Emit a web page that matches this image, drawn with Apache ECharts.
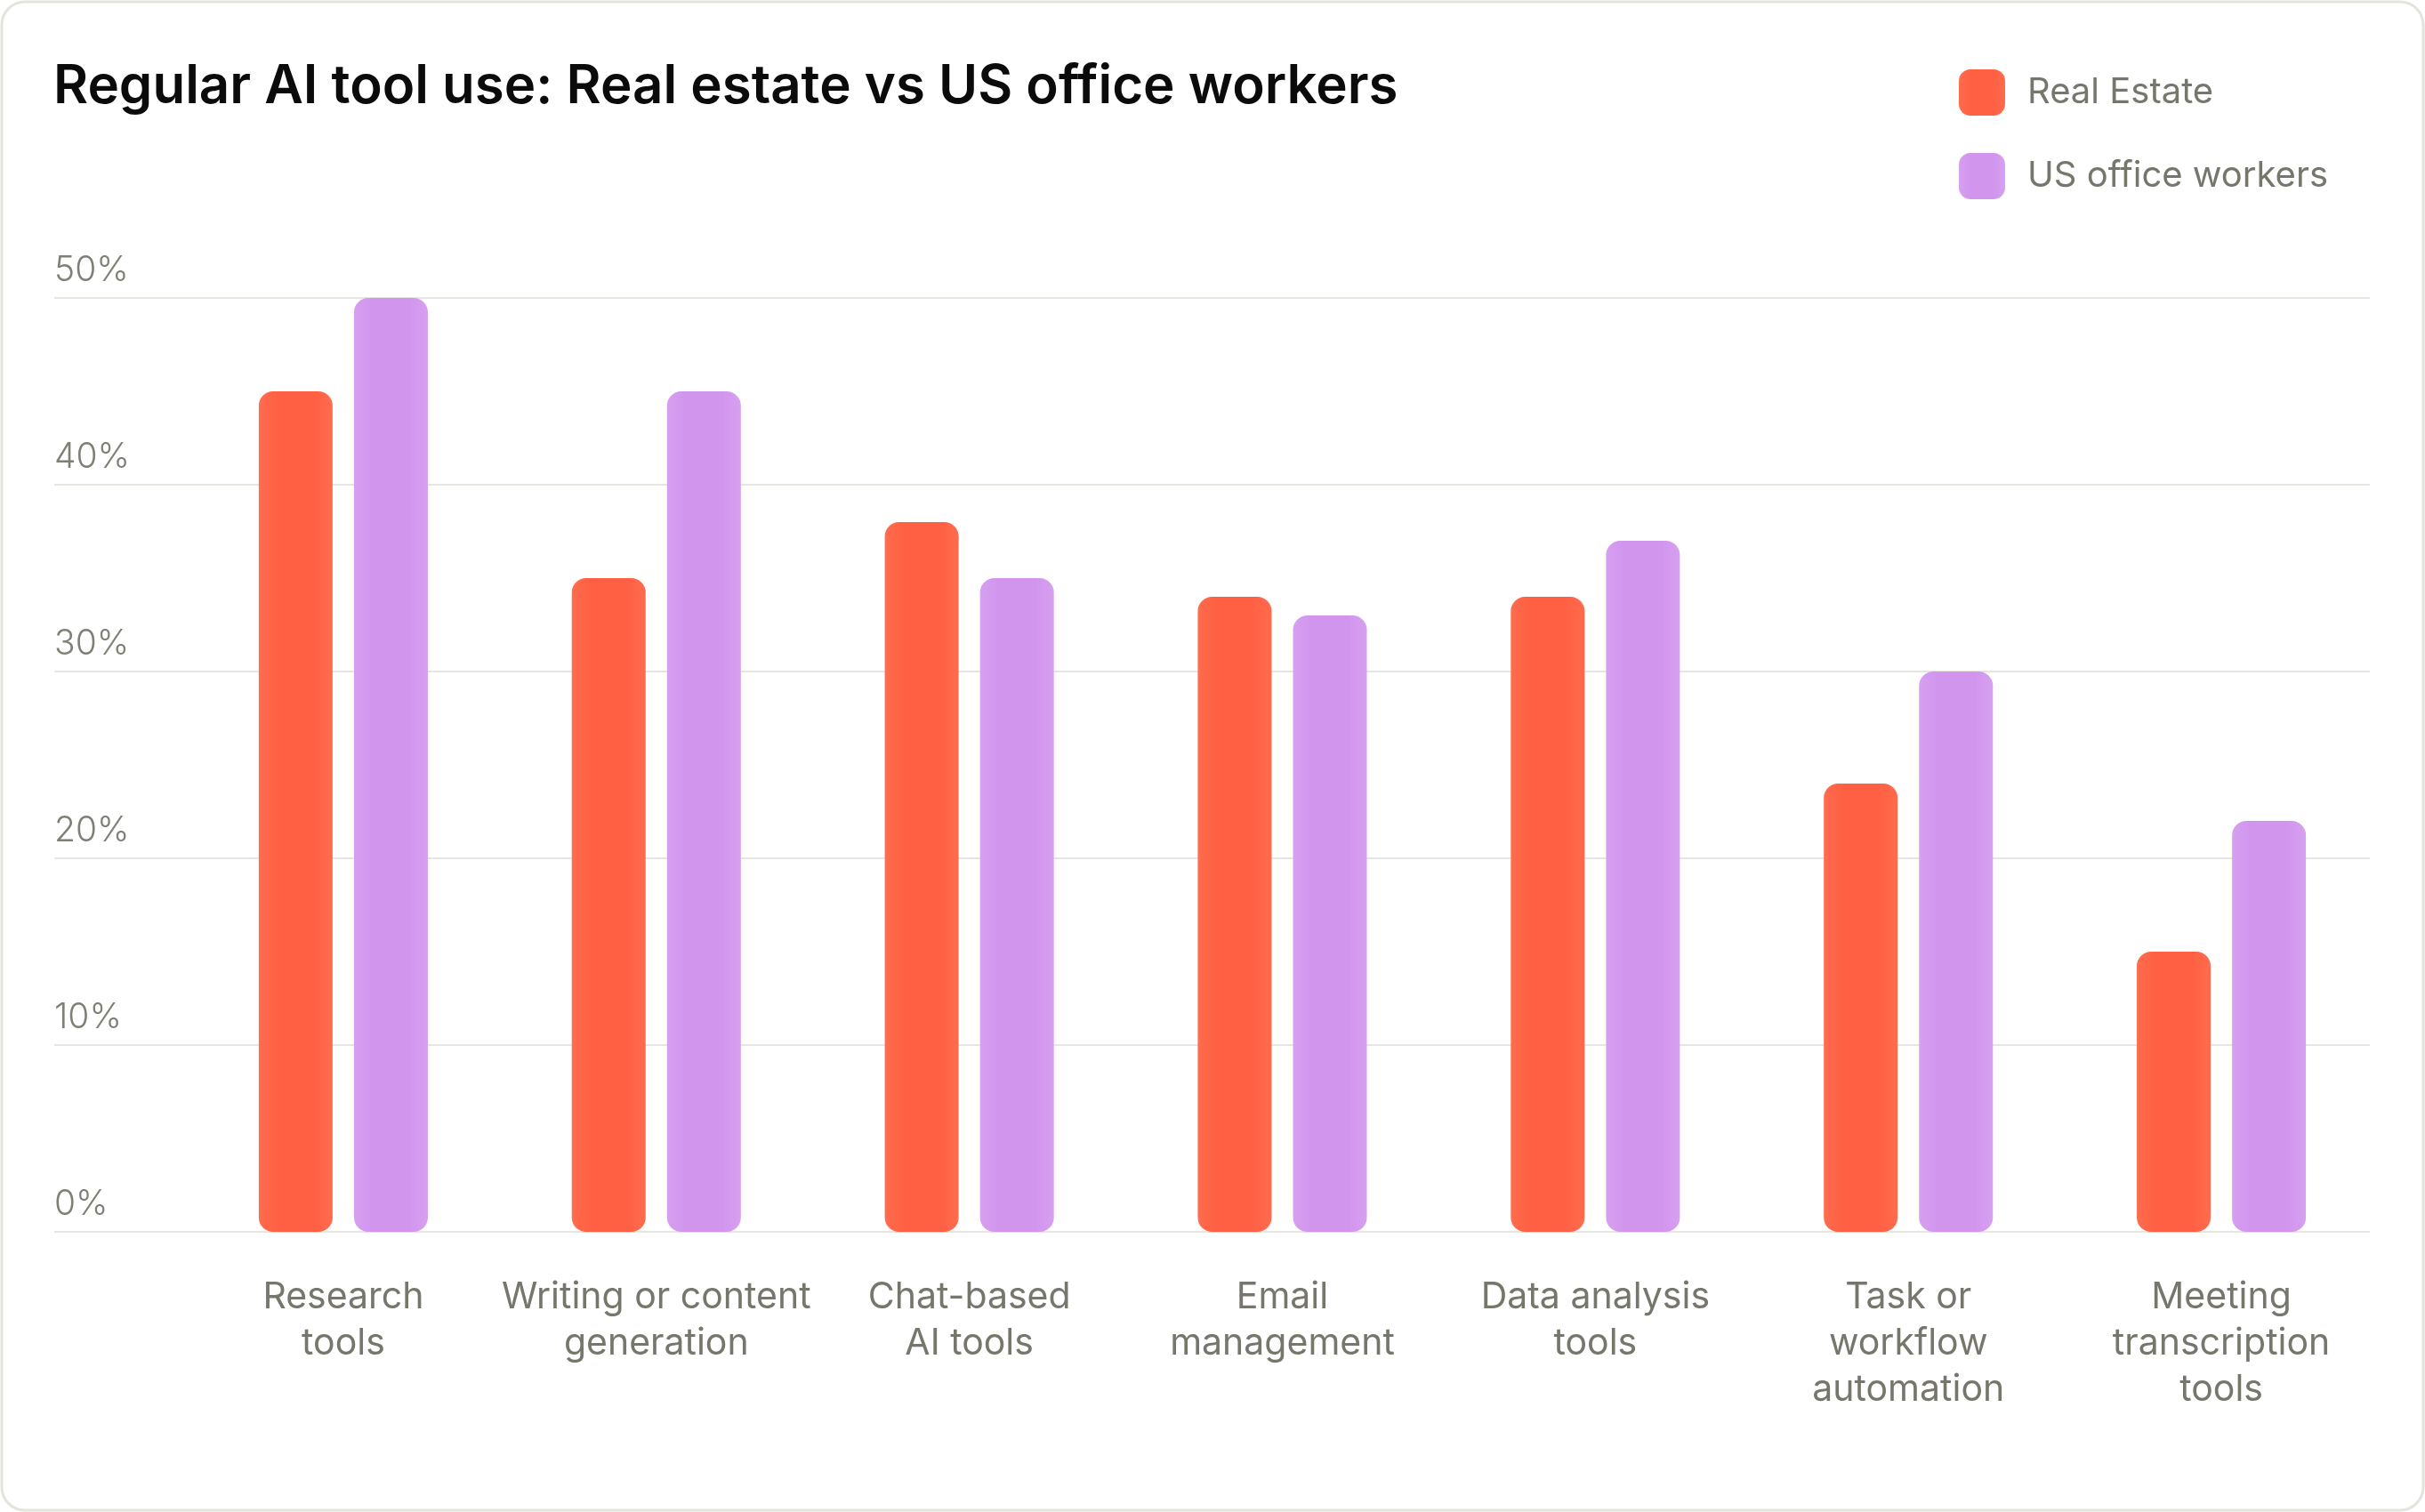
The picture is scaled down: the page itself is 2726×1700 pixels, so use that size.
<!DOCTYPE html>
<html>
<head>
<meta charset="utf-8">
<script src="https://cdn.jsdelivr.net/npm/echarts@6/dist/echarts.min.js"></script>
<style>
  html, body { margin: 0; padding: 0; background: #fff; }
  #chart { width: 2726px; height: 1700px; }
</style>
</head>
<body>
<div id="chart"></div>
<script>
// Regular AI tool use — grouped bars, two series, values in %
const categories = [
  'Research\ntools',
  'Writing or content\ngeneration',
  'Chat-based\nAI tools',
  'Email\nmanagement',
  'Data analysis\ntools',
  'Task or\nworkflow\nautomation',
  'Meeting\ntranscription\ntools',
];
const realEstate = [45, 35, 38, 34, 34, 24, 15];
const officeWorkers = [50, 45, 35, 33, 37, 30, 22];

const FONT = 'Inter, "Noto Sans", sans-serif';
const GREY = '#76766c';

function barFill(edge, mid) {
  return {
    type: 'linear', x: 0, y: 0, x2: 1, y2: 0,
    colorStops: [
      { offset: 0, color: edge },
      { offset: 0.25, color: mid },
      { offset: 0.75, color: mid },
      { offset: 1, color: edge },
    ],
  };
}

const chart = echarts.init(document.getElementById('chart'));

const option = {
  backgroundColor: '#fff',
  animation: false,
  graphic: [{
    type: 'rect',
    shape: { x: 2, y: 2, width: 2722, height: 1696, r: 26 },
    style: { fill: 'none', stroke: '#e4e3dc', lineWidth: 3 },
    silent: true,
  }],
  title: {
    text: 'Regular AI tool use: Real estate vs US office workers',
    left: 55,
    top: 63,
    textStyle: { fontFamily: FONT, fontSize: 60, fontWeight: 600, color: '#0b0b0b' },
  },
  legend: {
    orient: 'vertical',
    left: 2197,
    top: 73,
    itemWidth: 52,
    itemHeight: 52,
    itemGap: 42,
    icon: 'roundRect',
    textStyle: { fontFamily: FONT, fontSize: 40, color: GREY, padding: [0, 0, 0, 20] },
    data: ['Real Estate', 'US office workers'],
  },
  grid: [
    { left: 61, right: 62, top: 335, bottom: 315 },
    { left: 210, right: 53, top: 335, bottom: 315 },
  ],
  xAxis: [
    { type: 'value', gridIndex: 0, show: false },
    {
      type: 'category',
      gridIndex: 1,
      data: categories,
      axisLine: { show: false },
      axisTick: { show: false },
      axisLabel: {
        interval: 0,
        margin: 48,
        fontFamily: FONT,
        fontSize: 41,
        lineHeight: 52,
        color: GREY,
        align: 'center',
      },
    },
  ],
  yAxis: [
    {
      type: 'value',
      gridIndex: 0,
      min: 0,
      max: 50,
      interval: 10,
      axisLine: { show: false },
      axisTick: { show: false },
      splitLine: { lineStyle: { color: '#e6e5df', width: 2 } },
      axisLabel: {
        inside: true,
        margin: 0,
        align: 'left',
        verticalAlign: 'bottom',
        padding: [0, 0, 11, 0],
        fontFamily: FONT,
        fontSize: 39,
        fontWeight: 300,
        color: '#7f7f75',
        formatter: '{value}%',
      },
    },
    { type: 'value', gridIndex: 1, min: 0, max: 50, show: false },
  ],
  series: [
    {
      name: 'Real Estate',
      type: 'bar',
      xAxisIndex: 1,
      yAxisIndex: 1,
      data: realEstate,
      barWidth: 83,
      barGap: '29%',
      itemStyle: { color: barFill('#ff6c4e', '#ff6043'), borderRadius: 16 },
    },
    {
      name: 'US office workers',
      type: 'bar',
      xAxisIndex: 1,
      yAxisIndex: 1,
      data: officeWorkers,
      barWidth: 83,
      barGap: '29%',
      itemStyle: { color: barFill('#d6a0f0', '#d195ee'), borderRadius: 16 },
    },
  ],
};

chart.setOption(option);
</script>
</body>
</html>
